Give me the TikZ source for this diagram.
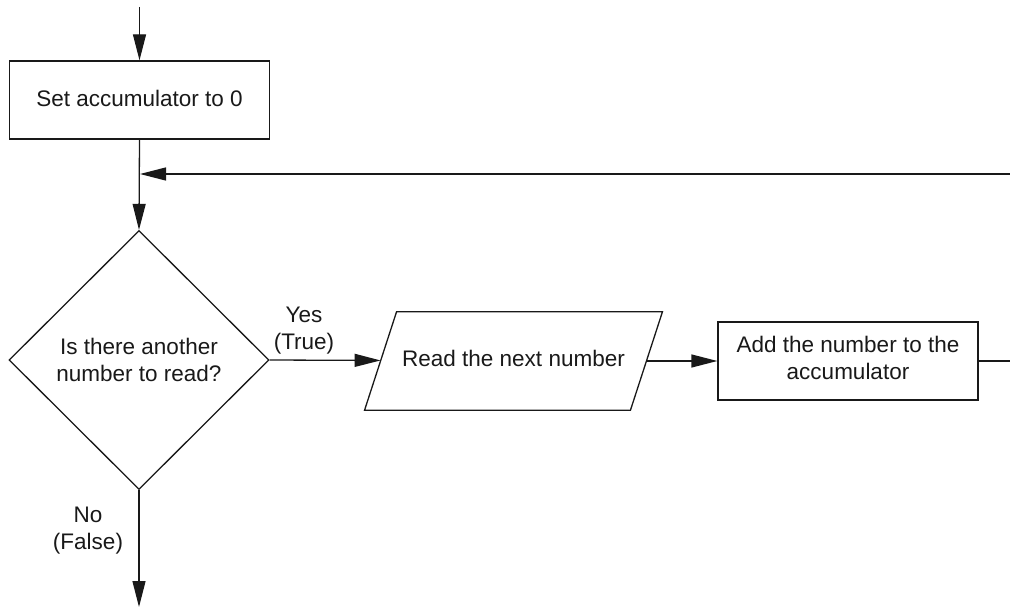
\documentclass[tikz,border=0pt]{standalone}
\usepackage{fontspec}
\setmainfont{Liberation Sans}
\usetikzlibrary{arrows.meta,shapes.geometric}
\begin{document}
\begin{tikzpicture}[x=1pt,y=-1pt,
  every node/.style={font=\fontsize{22.5}{27}\selectfont, text=black!90},
  line/.style={draw=black!90, line width=1.3pt},
  arr/.style={line, -{Triangle[length=26pt,width=13pt]}},
  procbox/.style={line, rectangle, minimum width=260pt, minimum height=78pt, inner sep=0pt, align=center},
  decbox/.style={line, diamond, minimum width=260pt, minimum height=259pt, inner sep=0pt, align=center},
  iobox/.style={rectangle, minimum width=265.5pt, minimum height=98pt, inner sep=0pt, align=center},
  lab/.style={align=center, inner sep=0pt}
]
\useasboundingbox (0,0) rectangle (1010,607);
\node[procbox] (box1) at (139.5,100) {\raisebox{3pt}{Set accumulator to 0}};
\node[decbox] (dec) at (139,360) {Is there another\\number to read?};
\node[iobox] (para) at (513.5,361) {\raisebox{5pt}{Read the next number}};
\draw[line] ([xshift=-16pt]para.south west) -- ([xshift=16pt]para.north west)
  -- ([xshift=16pt]para.north east) -- ([xshift=-16pt]para.south east) -- cycle;
\node[procbox] (box2) at (848,361) {\raisebox{4pt}{\begin{tabular}{@{}c@{}}Add the number to the\\accumulator\end{tabular}}};
\coordinate (start) at (139.5,7);
\coordinate (loopR) at (1010,174);
\coordinate (outR) at (1010,361);
\coordinate (endB) at (139,607);
\node[lab] (yes) at (304,331) {Yes\\(True)};
\node[lab] (no) at (88,531) {No\\(False)};
\draw[arr] (start) -- (box1.north);
\draw[arr] (box1.south) -- (dec.north);
\draw[arr, shorten >=1pt] (loopR) -- (loopR -| dec.north);
\draw[arr] (dec.east) -- (para);
\draw[arr] (para) -- (box2);
\draw[line] (box2.east) -- (outR);
\draw[arr] (dec.south) -- (endB);
\end{tikzpicture}
\end{document}
